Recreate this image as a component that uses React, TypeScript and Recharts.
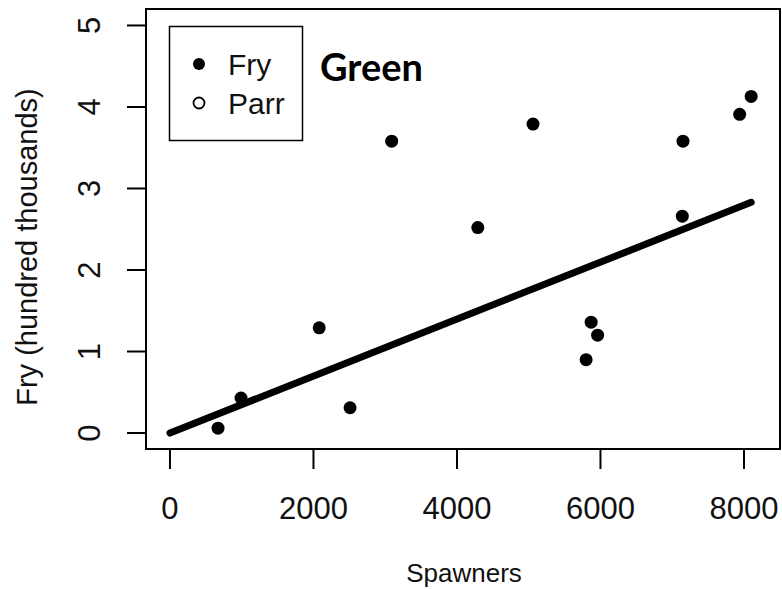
import React from "react";
import { ScatterChart, Scatter, XAxis, YAxis, ReferenceArea } from "recharts";

const spawners = [670, 990, 2080, 2510, 3090, 4290, 5060, 5800, 5870, 5960, 7140, 7150, 7940, 8100];
const fry = [0.06, 0.43, 1.29, 0.31, 3.58, 2.52, 3.79, 0.9, 1.36, 1.2, 2.66, 3.58, 3.91, 4.13];

// Fitted line endpoints
const fitSpawners = [0, 8100];
const fitFry = [0, 2.83];

// Axis ticks and limits
const xTicks = [0, 2000, 4000, 6000, 8000];
const yTicks = [0, 1, 2, 3, 4, 5];
const xDomain = [-334, 8502];
const yDomain = [-0.196, 5.202];

const legendLabels = ["Fry", "Parr"];
const titleText = "Green";
const xLabel = "Spawners";
const yLabel = "Fry (hundred thousands)";

const points = spawners.map((s, i) => ({ x: s, y: fry[i] }));
const fitLine = fitSpawners.map((s, i) => ({ x: s, y: fitFry[i] }));

const FONT = "'Liberation Sans', Arial, Helvetica, sans-serif";

const XTick = (props: any) => {
  const { x, y, payload } = props;
  return (
    <text x={x} y={y + 48} textAnchor="middle" fontFamily={FONT} fontSize={31} fill="#111">
      {payload.value}
    </text>
  );
};

const YTick = (props: any) => {
  const { x, y, payload } = props;
  return (
    <text
      x={0}
      y={0}
      transform={`translate(${x - 25}, ${y}) rotate(-90)`}
      textAnchor="middle"
      fontFamily={FONT}
      fontSize={31}
      fill="#111"
    >
      {payload.value}
    </text>
  );
};

const Dot = (props: any) => {
  const { cx, cy } = props;
  return <circle cx={cx} cy={cy} r={6.5} fill="#000" />;
};

const NoShape = () => <g />;

export default function App() {
  return (
    <div style={{ position: "absolute", left: 0, top: 0, width: 782, height: 589, background: "#fff" }}>
      <ScatterChart width={782} height={589} margin={{ top: 9, right: 2, bottom: 0, left: 0 }}>
        <XAxis
          type="number"
          dataKey="x"
          domain={xDomain}
          ticks={xTicks}
          allowDataOverflow
          height={140}
          tickSize={20}
          axisLine={{ stroke: "#000", strokeWidth: 2 }}
          tickLine={{ stroke: "#000", strokeWidth: 2 }}
          tick={<XTick />}
          interval={0}
        />
        <YAxis
          type="number"
          dataKey="y"
          domain={yDomain}
          ticks={yTicks}
          allowDataOverflow
          width={146}
          tickSize={19}
          axisLine={{ stroke: "#000", strokeWidth: 2 }}
          tickLine={{ stroke: "#000", strokeWidth: 2 }}
          tick={<YTick />}
          interval={0}
        />
        <ReferenceArea
          x1={xDomain[0]}
          x2={xDomain[1]}
          y1={yDomain[0]}
          y2={yDomain[1]}
          fill="none"
          fillOpacity={0}
          stroke="#000"
          strokeWidth={2}
          ifOverflow="visible"
        />
        <Scatter
          data={fitLine}
          line={{ stroke: "#000", strokeWidth: 7, strokeLinecap: "round" }}
          shape={<NoShape />}
          isAnimationActive={false}
        />
        <Scatter data={points} shape={<Dot />} isAnimationActive={false} />
      </ScatterChart>
      <svg
        width={782}
        height={589}
        style={{ position: "absolute", left: 0, top: 0, pointerEvents: "none" }}
      >
        <rect x={169.5} y={26.5} width={133} height={114} fill="#fff" stroke="#000" strokeWidth={1.5} />
        <circle cx={199} cy={64} r={6} fill="#000" />
        <circle cx={199} cy={103} r={5.5} fill="#fff" stroke="#000" strokeWidth={1.8} />
        <text x={228} y={75} fontFamily={FONT} fontSize={30} fill="#111">{legendLabels[0]}</text>
        <text x={228} y={114} fontFamily={FONT} fontSize={30} fill="#111">{legendLabels[1]}</text>
        <text x={320} y={81} fontFamily="Lato, 'Open Sans', sans-serif" fontWeight={700} fontSize={38} fill="#000">
          {titleText}
        </text>
        <text x={464} y={582} textAnchor="middle" fontFamily={FONT} fontSize={26} fill="#111">
          {xLabel}
        </text>
        <text
          x={0}
          y={0}
          transform="translate(37, 247) rotate(-90)"
          textAnchor="middle"
          fontFamily={FONT}
          fontSize={29}
          fill="#111"
        >
          {yLabel}
        </text>
      </svg>
    </div>
  );
}
